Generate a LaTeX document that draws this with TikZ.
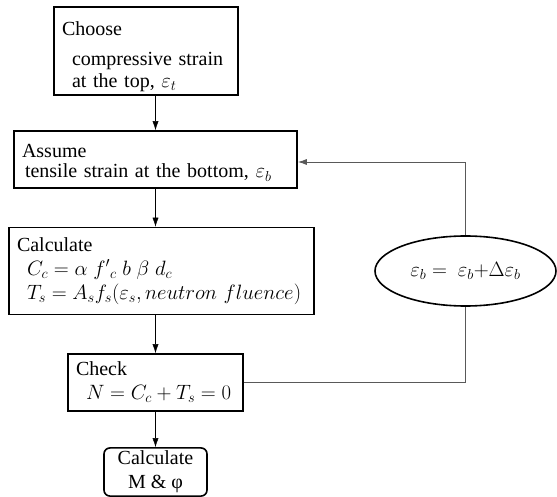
\documentclass[tikz,border=0pt]{standalone}
\usepackage{fontspec}
\setmainfont{Liberation Serif}
\usetikzlibrary{arrows.meta,shapes.geometric}
\tikzset{
    stepbox/.style={draw, line width=1.6pt, inner xsep=8pt, inner ysep=3pt, align=left,
        font=\fontsize{20}{24}\selectfont},
    endbox/.style={draw, line width=1.6pt, rounded corners=6pt, align=center,
        inner sep=3pt, font=\fontsize{20}{24}\selectfont},
    loopline/.style={draw=black!65, line width=0.9pt}
}
\begin{document}
\begin{tikzpicture}[x=1pt, y=-1pt, >={Latex[length=9pt,width=6pt]}]
    \useasboundingbox (0,0) rectangle (557,497);

    \node[stepbox, text width=168pt, minimum height=81pt] (choose) at (146,51)
        {\rule{0pt}{26pt}Choose\\[6pt]\hspace*{10pt}compressive strain\\[-2pt]\hspace*{10pt}at the top, $\varepsilon_t$};
    \node[stepbox, text width=267pt, minimum height=57pt] (assume) at (155.5,159.5)
        {\rule{0pt}{20pt}Assume\\[-4pt]\hspace*{3pt}tensile strain at the bottom, $\varepsilon_b$};
    \node[stepbox, text width=289pt, minimum height=87pt] (calc) at (161.5,271)
        {Calculate\\\hspace*{10pt}$C_c = \alpha\; f'{}_c\; b\; \beta\; d_c$\\\hspace*{10pt}$T_s = A_s f_s(\varepsilon_s, neutron\ fluence)$};
    \node[stepbox, text width=159pt, minimum height=57pt] (check) at (155.5,382.5)
        {Check\\\hspace*{10pt}$N = C_c + T_s = 0$};
    \node[endbox, minimum width=103pt, minimum height=48pt] (result) at (155.5,472)
        {Calculate\\M \& φ};
    \node[ellipse, draw, line width=1.6pt, minimum width=181pt, minimum height=70pt,
        font=\fontsize{20}{24}\selectfont] (update) at (465.5,271)
        {$\varepsilon_b =\ \varepsilon_b{+}\Delta\varepsilon_b$};

    \draw[->] (choose.south -| assume) -- (assume.north);
    \draw[->] (assume.south) -- (calc.north -| assume);
    \draw[->] (calc.south -| check) -- (check.north);
    \draw[->] (check.south) -- (result.north);
    \draw[loopline] (check.east) -| (update.south);
    \draw[loopline, ->] (update.north) |- ([yshift=-2.5pt]assume.east);
\end{tikzpicture}
\end{document}
